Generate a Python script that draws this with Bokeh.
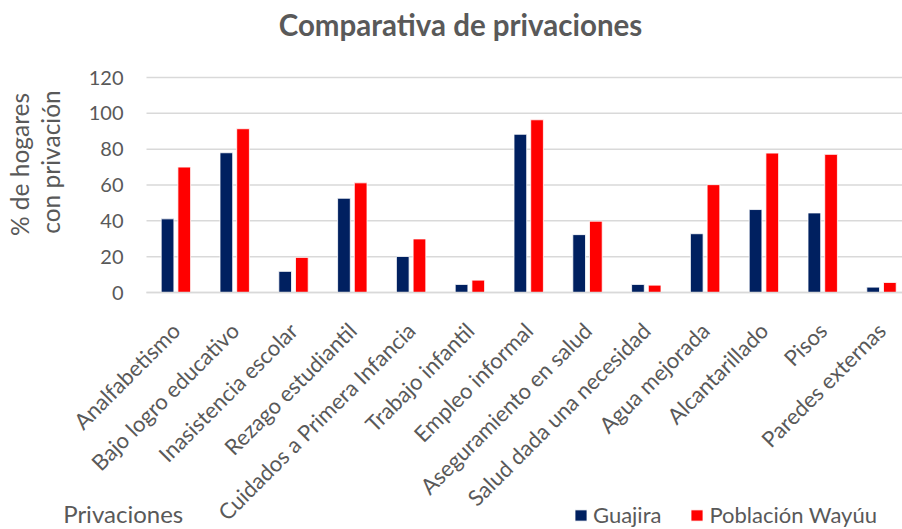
import math
from bokeh.plotting import figure
from bokeh.models import (ColumnDataSource, Range1d, FixedTicker, Legend, LegendItem, Label)
from bokeh.transform import dodge
from bokeh.embed import file_html
from bokeh.resources import INLINE

categories = ["Analfabetismo", "Bajo logro educativo", "Inasistencia escolar",
              "Rezago estudiantil", "Cuidados a Primera Infancia", "Trabajo infantil",
              "Empleo informal", "Aseguramiento en salud", "Salud dada una necesidad",
              "Agua mejorada", "Alcantarillado", "Pisos", "Paredes externas"]
guajira = [41.1, 78.0, 11.8, 52.6, 20.1, 4.5, 88.3, 32.3, 4.5, 32.8, 46.3, 44.4, 3.0]
wayuu = [70.0, 91.4, 19.6, 61.2, 29.9, 6.9, 96.4, 39.8, 4.1, 60.2, 77.8, 77.1, 5.6]
y_ticks = [0, 20, 40, 60, 80, 100, 120]

FONT = "Lato"
GRAY = "#595959"
W, H = 902, 529

# plot area: x in [-0.5, 12.357] maps to px 146..902, y in [0,120] maps to px 292..77
X0, X1 = -0.5, 12.357
px_per_x = (902 - 146) / (X1 - X0)
px_per_y = (292 - 77) / 120.0
x_range = Range1d(X0 - 146 / px_per_x, X1)
y_range = Range1d(-(H - 292) / px_per_y, 120 + 77 / px_per_y)

src = ColumnDataSource(dict(x=list(range(len(categories))), g=guajira, w=wayuu))
grid_src = ColumnDataSource(dict(y=y_ticks, x0=[X0] * len(y_ticks), x1=[X1] * len(y_ticks)))

p = figure(width=W, height=H, output_backend="svg", toolbar_location=None,
           x_range=x_range, y_range=y_range)
p.min_border = 0
p.min_border_left = 0
p.min_border_right = 0
p.min_border_top = 0
p.min_border_bottom = 0
p.outline_line_color = None
p.xgrid.visible = False
p.ygrid.visible = False

p.segment(x0="x0", x1="x1", y0="y", y1="y", source=grid_src,
          line_color="#d9d9d9", line_width=1.5)

r1 = p.vbar(x=dodge("x", -0.142), top="g", width=0.216, source=src,
            fill_color="#002060", line_color="white", line_width=0.8)
r2 = p.vbar(x=dodge("x", 0.142), top="w", width=0.216, source=src,
            fill_color="#FF0000", line_color="white", line_width=0.8)

p.yaxis.fixed_location = X0
p.yaxis.ticker = FixedTicker(ticks=y_ticks)
p.yaxis.axis_line_color = None
p.yaxis.major_tick_line_color = None
p.yaxis.minor_tick_line_color = None
p.yaxis.major_label_text_font = FONT
p.yaxis.major_label_text_font_size = "20px"
p.yaxis.major_label_text_color = GRAY
p.yaxis.major_label_standoff = 17

p.xaxis.fixed_location = 0
p.xaxis.bounds = (X0, X1)
p.xaxis.ticker = FixedTicker(ticks=list(range(len(categories))))
p.xaxis.major_label_overrides = {i: c for i, c in enumerate(categories)}
p.xaxis.major_label_orientation = math.pi / 4
p.xaxis.axis_line_color = "#d9d9d9"
p.xaxis.axis_line_width = 1.5
p.xaxis.major_tick_line_color = None
p.xaxis.minor_tick_line_color = None
p.xaxis.major_label_text_font = FONT
p.xaxis.major_label_text_font_size = "22px"
p.xaxis.major_label_text_color = GRAY
p.xaxis.major_label_standoff = 28

def add_text(x, y, text, size, angle=0.0, align="left", bold=False):
    p.add_layout(Label(x=x, y=y, x_units="screen", y_units="screen", text=text,
                       angle=angle, text_font=FONT, text_font_size=size,
                       text_font_style="bold" if bold else "normal",
                       text_color=GRAY, text_align=align,
                       text_baseline="alphabetic"))

add_text(460, H - 23.5, "Comparativa de privaciones", "29.5px", align="center", bold=True)
add_text(18.5, H - 164, "% de hogares", "24.5px", angle=math.pi / 2, align="center")
add_text(50, H - 161.5, "con privación", "24.5px", angle=math.pi / 2, align="center")
add_text(62.7, H - 512.7, "Privaciones", "24px")

legend = Legend(items=[LegendItem(label="Guajira", renderers=[r1]),
                       LegendItem(label="Población Wayúu", renderers=[r2])],
                orientation="horizontal", location=(573, 1),
                glyph_width=15, glyph_height=14, label_standoff=5, spacing=28,
                padding=0, margin=0, border_line_color=None,
                background_fill_alpha=0, label_text_font=FONT,
                label_text_font_size="22px", label_text_color=GRAY,
                label_height=14)
p.add_layout(legend, "center")

open("out.html", "w").write(file_html(p, INLINE))
